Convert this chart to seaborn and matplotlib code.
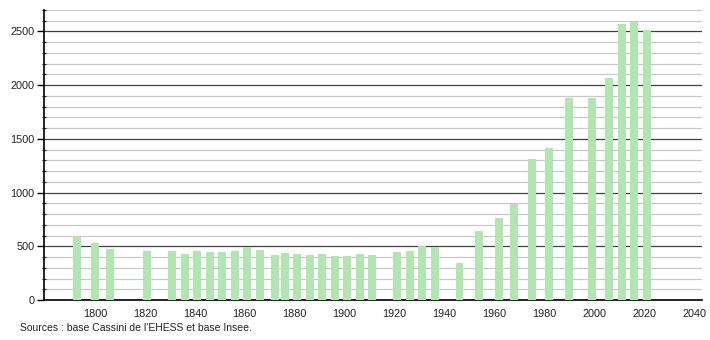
import matplotlib
matplotlib.use("Agg")
import matplotlib.pyplot as plt
from matplotlib.ticker import MultipleLocator
import seaborn as sns
import pandas as pd

years = [1793, 1800, 1806, 1821, 1831, 1836, 1841, 1846, 1851, 1856, 1861, 1866,
         1872, 1876, 1881, 1886, 1891, 1896, 1901, 1906, 1911, 1921, 1926, 1931,
         1936, 1946, 1954, 1962, 1968, 1975, 1982, 1990, 1999, 2006, 2011, 2016, 2021]
population = [595, 533, 478, 453, 453, 428, 456, 450, 446, 456, 490, 465,
              419, 437, 428, 419, 428, 409, 412, 428, 419, 449, 456, 502,
              493, 344, 642, 763, 896, 1309, 1417, 1879, 1879, 2065, 2567, 2589, 2512]
x_ticks = [1800, 1820, 1840, 1860, 1880, 1900, 1920, 1940, 1960, 1980, 2000, 2020, 2040]
y_ticks = [0, 500, 1000, 1500, 2000, 2500]
source_text = "Sources : base Cassini de l'EHESS et base Insee."

df = pd.DataFrame({"year": years, "pop": population})

sns.set_style("white")
plt.rcParams["font.family"] = ["Liberation Sans", "DejaVu Sans"]

fig = plt.figure(figsize=(7.1, 3.4), dpi=100)
ax = fig.add_axes([0.062, 0.1176, 0.927, 0.853])

sns.barplot(data=df, x="year", y="pop", native_scale=True, width=0.8,
            color="#b3e5b3", saturation=1, errorbar=None, ax=ax, zorder=3,
            linewidth=0, edgecolor="none")

ax.set_xlim(1779.6, 2043.2)
ax.set_ylim(0, 2700)
ax.set_xticks(x_ticks)
ax.set_yticks(y_ticks)
ax.yaxis.set_minor_locator(MultipleLocator(100))
ax.set_xticklabels([str(t) for t in x_ticks])
ax.set_yticklabels([str(t) for t in y_ticks])

ax.grid(which="minor", axis="y", color="#c8c8c8", linewidth=0.9, zorder=1)
ax.grid(which="major", axis="y", color="#404040", linewidth=0.9, zorder=2)
ax.set_axisbelow(True)

for s in ["top", "right"]:
    ax.spines[s].set_visible(False)
ax.spines["left"].set_color("black")
ax.spines["bottom"].set_color("black")
ax.spines["left"].set_linewidth(1.2)
ax.spines["bottom"].set_linewidth(1.2)

ax.tick_params(axis="y", which="major", left=True, length=5, width=1, direction="out",
               labelsize=7.8, pad=2, colors="black", labelcolor="#222222")
ax.tick_params(axis="y", which="minor", left=True, length=3, width=0.8, direction="inout")
ax.tick_params(axis="x", which="major", bottom=False, labelsize=7.8, pad=3,
               labelcolor="#222222")

ax.set_xlabel("")
ax.set_ylabel("")

fig.text(20 / 710, 1 - 328 / 340, source_text, fontsize=7.5, va="center", ha="left",
         color="#222222")

fig.savefig("out.png", dpi=100)
